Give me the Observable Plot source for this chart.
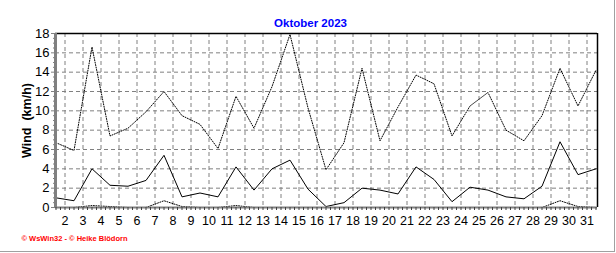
<!DOCTYPE html>
<html>
<head>
<meta charset="utf-8">
<script src="https://cdn.jsdelivr.net/npm/d3@7"></script>
<script src="https://cdn.jsdelivr.net/npm/@observablehq/plot@0.6"></script>
<style>
  html, body { margin: 0; padding: 0; background: #fff; }
  #wrap { position: relative; width: 616px; height: 253px; overflow: hidden; }
  #edgeR { position: absolute; left: 614px; top: 0; width: 1px; height: 252px; background: #a0a0a0; }
  #edgeB { position: absolute; left: 0; top: 251px; width: 615px; height: 1px; background: #a0a0a0; }
</style>
</head>
<body>
<div id="wrap"><div id="edgeR"></div><div id="edgeB"></div></div>
<script>
const title = "Oktober 2023";
const yLabel = "Wind\u00a0 (km/h)";
const credits = "\u00a9 WsWin32 - \u00a9 Heike Bl\u00f6dorn";

const days = [1,2,3,4,5,6,7,8,9,10,11,12,13,14,15,16,17,18,19,20,21,22,23,24,25,26,27,28,29,30,31];
const dayLabels = [2,3,4,5,6,7,8,9,10,11,12,13,14,15,16,17,18,19,20,21,22,23,24,25,26,27,28,29,30,31];
const yTicks = [0,2,4,6,8,10,12,14,16,18];

const maxWind  = [6.7, 5.9, 16.6, 7.4, 8.2, 9.9, 12.0, 9.5, 8.6, 6.1, 11.5, 8.2, 12.5, 17.9, 10.3, 3.9,
                  6.7, 14.4, 6.9, 10.4, 13.7, 12.8, 7.4, 10.5, 11.9, 8.0, 6.9, 9.5, 14.4, 10.5, 14.2];
const meanWind = [1.0, 0.7, 4.0, 2.3, 2.2, 2.8, 5.4, 1.1, 1.5, 1.1, 4.2, 1.8, 4.0, 4.9, 1.9, 0.1,
                  0.5, 2.0, 1.8, 1.4, 4.2, 2.9, 0.6, 2.1, 1.8, 1.1, 0.9, 2.2, 6.8, 3.4, 4.0];
const minWind  = [0, 0, 0.2, 0.1, 0, 0, 0.7, 0.1, 0, 0, 0.2, 0, 0, 0, 0, 0,
                  0, 0, 0, 0, 0, 0, 0, 0, 0, 0, 0, 0, 0.7, 0.1, 0];

// each daily value is drawn at the middle of its day
const rows = days.map((d, i) => ({t: d + 0.5, max: maxWind[i], mean: meanWind[i], min: minWind[i]}));

const xDomain = [2 - 9.5 / 18, 31 + 10.5 / 18];
const minorX = d3.range(1.5, 31.6, 0.25).filter(v => !dayLabels.includes(v));
const minorY = d3.range(0, 18.01, 0.5).filter(v => !yTicks.includes(v));

const gridStyle = {stroke: "#808080", strokeOpacity: 1, strokeDasharray: "4,3", strokeWidth: 1};

const chart = Plot.plot({
  width: 616,
  height: 253,
  marginLeft: 55,
  marginRight: 19,
  marginTop: 33,
  marginBottom: 46,
  style: {fontFamily: "'Liberation Sans', Arial, sans-serif", background: "white", overflow: "visible"},
  x: {domain: xDomain, axis: null, label: null},
  y: {domain: [0, 18], axis: null, label: null},
  marks: [
    Plot.gridX(dayLabels, gridStyle),
    Plot.gridY(yTicks.filter(v => v > 0), gridStyle),
    Plot.ruleY([18], {stroke: "black", strokeWidth: 1.5}),
    Plot.ruleX([xDomain[1]], {stroke: "black", strokeWidth: 1.5}),
    Plot.line(rows, {x: "t", y: "max", stroke: "black", strokeWidth: 1, strokeDasharray: "1,1.5"}),
    Plot.line(rows, {x: "t", y: "min", stroke: "black", strokeWidth: 1, strokeDasharray: "1,1.5"}),
    Plot.line(rows, {x: "t", y: "mean", stroke: "black", strokeWidth: 1}),
    Plot.ruleY([0], {stroke: "#808080", strokeWidth: 2}),
    Plot.ruleX([xDomain[0]], {stroke: "#808080", strokeWidth: 3}),
    Plot.axisX(dayLabels, {tickSize: 0, tickPadding: 9, fontSize: 12.5, fill: "black", label: null}),
    Plot.axisX(minorX, {tickSize: 3, text: null, stroke: "#404040", strokeOpacity: 1, label: null}),
    Plot.axisX(dayLabels, {tickSize: 3, text: null, stroke: "#404040", strokeOpacity: 1, label: null}),
    Plot.axisY(yTicks, {tickSize: 4, tickPadding: 2, fontSize: 13, stroke: "#808080", strokeOpacity: 1, fill: "black",
      label: yLabel, labelAnchor: "center", labelArrow: "none", labelOffset: 33}),
    Plot.axisY(minorY, {tickSize: 2, text: null, stroke: "#808080", strokeOpacity: 1, label: null}),
    Plot.text([title], {frameAnchor: "top", dx: -16, dy: -15, fill: "#0000ff", fontWeight: "bold", fontSize: 11.5}),
    Plot.text([credits], {frameAnchor: "bottom-left", dx: -34, dy: 33, textAnchor: "start", fill: "#ff0000", fontWeight: "bold", fontSize: 7.5})
  ]
});

// make the axis label bold, as in the reference
chart.querySelectorAll("text").forEach(t => {
  if (t.textContent.trim() === yLabel.trim()) { t.setAttribute("font-weight", "bold"); t.setAttribute("font-size", "12.5"); }
});

document.getElementById("wrap").prepend(chart);
</script>
</body>
</html>
